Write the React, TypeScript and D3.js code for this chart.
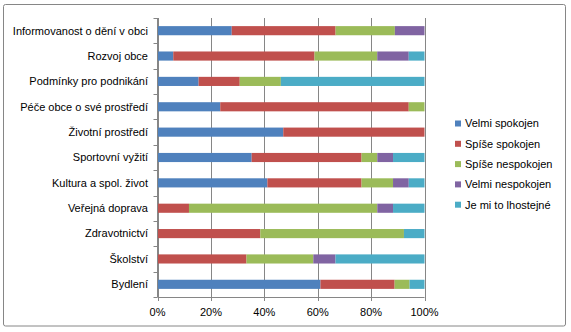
import React from "react";
import * as d3 from "d3";

const categories = [
  "Informovanost o dění v obci",
  "Rozvoj obce",
  "Podmínky pro podnikání",
  "Péče obce o své prostředí",
  "Životní prostředí",
  "Sportovní vyžití",
  "Kultura a spol. život",
  "Veřejná doprava",
  "Zdravotnictví",
  "Školství",
  "Bydlení",
];

const seriesNames = [
  "Velmi spokojen",
  "Spíše spokojen",
  "Spíše nespokojen",
  "Velmi nespokojen",
  "Je mi to lhostejné",
];

const velmiSpokojen = [27.8, 5.9, 15.4, 23.5, 47.1, 35.3, 41.2, 0, 0, 0, 61.1];
const spiseSpokojen = [38.9, 52.9, 15.4, 70.6, 52.9, 41.2, 35.3, 11.8, 38.5, 33.3, 27.8];
const spiseNespokojen = [22.2, 23.5, 15.4, 5.9, 0, 5.9, 11.8, 70.6, 53.8, 25.0, 5.6];
const velmiNespokojen = [11.1, 11.8, 0, 0, 0, 5.9, 5.9, 5.9, 0, 8.3, 0];
const lhostejne = [0, 5.9, 53.8, 0, 0, 11.8, 5.9, 11.8, 7.7, 33.3, 5.6];

const xTicks = [0, 20, 40, 60, 80, 100];
const colors = ["#4F81BD", "#C0504D", "#9BBB59", "#8064A2", "#4BACC6"];

export default function App() {
  const W = 571, H = 332;
  const x0 = 157.5, x1 = 424.5, y0 = 18, y1 = 297;
  const font = "'Liberation Sans', Arial, sans-serif";

  const rows = categories.map((c, i) => ({
    cat: c,
    s0: velmiSpokojen[i],
    s1: spiseSpokojen[i],
    s2: spiseNespokojen[i],
    s3: velmiNespokojen[i],
    s4: lhostejne[i],
  }));
  const keys = ["s0", "s1", "s2", "s3", "s4"];
  const stack = d3.stack<any>().keys(keys).offset(d3.stackOffsetExpand);
  const stacked = stack(rows);

  const x = d3.scaleLinear().domain([0, 1]).range([x0, x1]);
  const xt = d3.scaleLinear().domain([0, 100]).range([x0, x1]);
  const y = d3.scaleBand().domain(categories).range([y0, y1]).paddingInner(0.64).paddingOuter(0.32);

  const bandStep = (y1 - y0) / categories.length;

  return (
    <svg width={W} height={H} style={{ position: "absolute", left: 0, top: 0 }}>
      <rect x={0} y={0} width={W} height={H} fill="#fff" />
      <rect x={3.5} y={4.5} width={562} height={321.5} fill="none" stroke="#868686" strokeWidth={1} rx={2} />
      {xTicks.map((t) => (
        <line key={t} x1={Math.round(xt(t)) + 0.5} x2={Math.round(xt(t)) + 0.5} y1={y0} y2={y1 + 4} stroke="#868686" />
      ))}
      {stacked.map((s, si) => (
        <g key={si} fill={colors[si]}>
          {s.map((d, i) => (
            <rect key={i} x={x(d[0])} width={Math.max(0, x(d[1]) - x(d[0]))} y={y(categories[i])!} height={y.bandwidth()} />
          ))}
        </g>
      ))}
      <line x1={x0} x2={x0} y1={y0} y2={y1} stroke="#868686" />
      <line x1={x0} x2={x1} y1={y1 + 0.5} y2={y1 + 0.5} stroke="#868686" />
      {d3.range(categories.length + 1).map((i) => (
        <line key={i} x1={x0 - 4} x2={x0} y1={Math.round(y0 + i * bandStep) + 0.5} y2={Math.round(y0 + i * bandStep) + 0.5} stroke="#868686" />
      ))}
      {categories.map((c) => (
        <text key={c} x={148} y={y(c)! + y.bandwidth() / 2} dy="0.35em" textAnchor="end" fontFamily={font} fontSize={11} fill="#000">
          {c}
        </text>
      ))}
      {xTicks.map((t) => (
        <text key={t} x={xt(t)} y={316} textAnchor="middle" fontFamily={font} fontSize={11} fill="#000">
          {t}%
        </text>
      ))}
      {seriesNames.map((n, i) => (
        <g key={n} transform={`translate(455, ${123.5 + i * 20.3})`}>
          <rect x={0} y={-3} width={6} height={6} fill={colors[i]} />
          <text x={10} y={0} dy="0.35em" fontFamily={font} fontSize={11} fill="#000">{n}</text>
        </g>
      ))}
    </svg>
  );
}
